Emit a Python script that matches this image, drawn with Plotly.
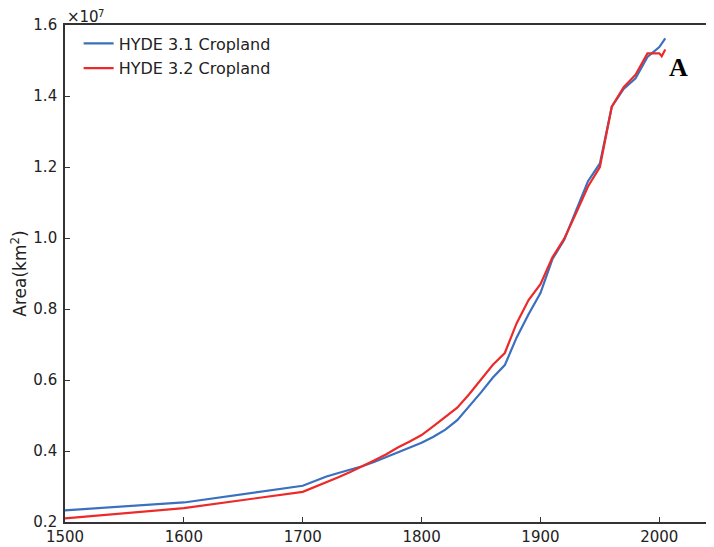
import plotly.graph_objects as go

# Values in units of 1e7 km^2
years_31 = [1500, 1600, 1700, 1710, 1720, 1730, 1740, 1750, 1760, 1770, 1780, 1790,
            1800, 1810, 1820, 1830, 1840, 1850, 1860, 1870, 1880, 1890, 1900, 1910,
            1920, 1930, 1940, 1950, 1960, 1970, 1980, 1990, 2000, 2005]
hyde31 = [0.233, 0.255, 0.302, 0.316, 0.328, 0.338, 0.347, 0.357, 0.369, 0.383, 0.397, 0.41,
          0.423, 0.44, 0.46, 0.487, 0.525, 0.565, 0.607, 0.642, 0.72, 0.785, 0.845, 0.94,
          0.995, 1.08, 1.16, 1.21, 1.37, 1.42, 1.45, 1.51, 1.538, 1.562]

years_32 = [1500, 1600, 1700, 1710, 1720, 1730, 1740, 1750, 1760, 1770, 1780, 1790,
            1800, 1810, 1820, 1830, 1840, 1850, 1860, 1870, 1880, 1890, 1900, 1910,
            1920, 1930, 1940, 1950, 1960, 1970, 1980, 1990, 2000, 2002, 2005]
hyde32 = [0.21, 0.239, 0.285, 0.298, 0.312, 0.326, 0.341, 0.356, 0.373, 0.39, 0.41, 0.427,
          0.445, 0.47, 0.495, 0.522, 0.56, 0.60, 0.643, 0.676, 0.76, 0.825, 0.87, 0.945,
          0.998, 1.07, 1.145, 1.20, 1.37, 1.425, 1.46, 1.52, 1.52, 1.512, 1.531]

x_ticks = [1500, 1600, 1700, 1800, 1900, 2000]
y_ticks = [0.2, 0.4, 0.6, 0.8, 1.0, 1.2, 1.4, 1.6]

BLUE = "#3a70bd"
RED = "#ec2a2a"
AX = "#333333"
FONT = "DejaVu Sans"

fig = go.Figure()
fig.add_trace(go.Scatter(x=years_31, y=hyde31, mode="lines", name="HYDE 3.1 Cropland",
                         line=dict(color=BLUE, width=2.2), legendgroup="a"))
fig.add_trace(go.Scatter(x=years_32, y=hyde32, mode="lines", name="HYDE 3.2 Cropland",
                         line=dict(color=RED, width=2.2), legendgroup="b"))

fig.update_layout(
    width=706, height=539,
    margin=dict(l=57, r=0, t=17, b=25),
    paper_bgcolor="white", plot_bgcolor="white",
    font=dict(family=FONT, size=15, color="#222"),
    showlegend=True,
    legend=dict(x=0.021, y=0.997, xanchor="left", yanchor="top",
                bgcolor="rgba(0,0,0,0)", font=dict(size=16, family=FONT, color="#222"),
                tracegroupgap=1, traceorder="grouped"),
    xaxis=dict(range=[1500, 2046], tickvals=x_ticks, ticktext=[str(v) for v in x_ticks],
               showgrid=False, zeroline=False, showline=True, linecolor=AX, linewidth=1.6,
               mirror=True, ticks="inside", ticklen=5, tickcolor=AX, automargin=False,
               ticklabelstandoff=0,
               tickfont=dict(size=15, family=FONT)),
    yaxis=dict(range=[0.2, 1.6], tickvals=y_ticks, ticktext=[f"{v:.1f}" for v in y_ticks],
               showgrid=False, zeroline=False, showline=True, linecolor=AX, linewidth=1.6,
               ticks="inside", ticklen=5, tickcolor=AX, automargin=False,
               ticklabelstandoff=3,
               tickfont=dict(size=15, family=FONT),
               title=dict(text="Area(km<sup>2</sup>)", font=dict(size=17, family=FONT), standoff=11)),
)

fig.add_annotation(text="×10", xref="paper", yref="paper", x=(83 - 65) / 649,
                   y=(522 - 17) / 497, xanchor="center", yanchor="middle", showarrow=False,
                   font=dict(size=15, family=FONT, color="#222"))
fig.add_annotation(text="7", xref="paper", yref="paper", x=(101 - 65) / 649,
                   y=(522 - 14) / 497, xanchor="center", yanchor="middle", showarrow=False,
                   font=dict(size=10, family=FONT, color="#222"))
fig.add_annotation(text="<b>A</b>", xref="paper", yref="paper", x=(678 - 65) / 649,
                   y=(522 - 67) / 497, xanchor="center", yanchor="middle", showarrow=False,
                   font=dict(size=26, family="Liberation Serif", color="black"))

fig.write_html("out.html")
